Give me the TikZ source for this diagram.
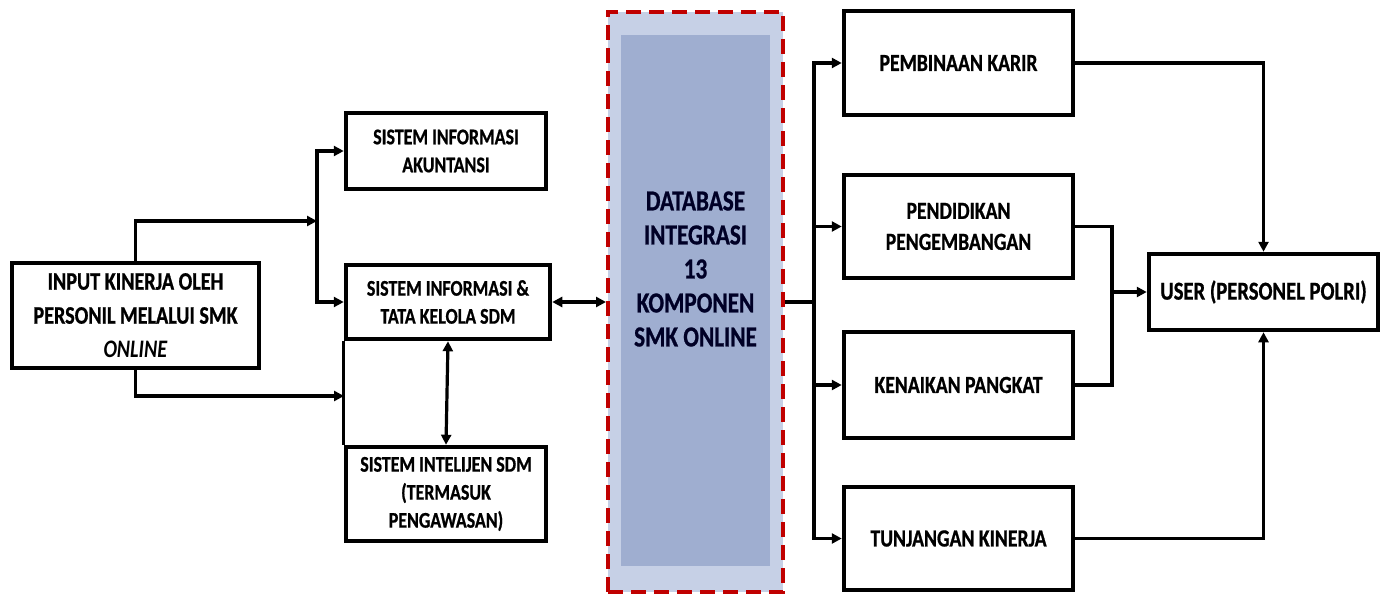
\documentclass[tikz,border=0pt]{standalone}
\usepackage{fontspec}
\setmainfont{Carlito}[FakeStretch=0.8, BoldFeatures={FakeBold=0.8}]
\usetikzlibrary{arrows.meta}

\definecolor{dbred}{HTML}{C00000}
\definecolor{dbpale}{HTML}{C6D0E6}
\definecolor{dbcore}{HTML}{9FAED0}

\begin{document}
\begin{tikzpicture}[x=1pt, y=-1pt,
    box/.style={draw, line width=4.5pt, align=center, inner sep=2pt,
        font=\fontsize{22.4}{28}\selectfont\bfseries},
    rbox/.style={box, minimum width=229pt, font=\fontsize{24.6}{31}\selectfont\bfseries},
    link/.style={line width=3.2pt},
    arr/.style={link, -{Triangle[length=10pt,width=10pt]}},
    both/.style={link, {Triangle[length=10pt,width=10pt]}-{Triangle[length=10pt,width=10pt]}}]

    % Fix the canvas to the size of the original figure
    \useasboundingbox (0,0) rectangle (1386,596);

    % Draw the input box on the left
    \node[box, minimum width=247pt, minimum height=105pt,
        font=\fontsize{25.2}{34}\selectfont\bfseries] (input) at (135.5,315.5)
        {INPUT KINERJA OLEH\\PERSONIL MELALUI SMK\\\textit{ONLINE}};

    % Draw the three information systems
    \node[box, minimum width=200pt, minimum height=76pt] (sia) at (446,151)
        {SISTEM INFORMASI\\AKUNTANSI};
    \node[box, minimum width=204pt, minimum height=74pt] (sit) at (448,302)
        {SISTEM INFORMASI \&\\TATA KELOLA SDM};
    \node[box, minimum width=200pt, minimum height=94pt] (sin) at (446,494)
        {SISTEM INTELIJEN SDM\\(TERMASUK\\PENGAWASAN)};

    % Draw the integrated database in the middle
    \node[draw=dbred, fill=dbpale, line width=4pt, dash pattern=on 15pt off 8pt,
        minimum width=175pt, minimum height=580pt] (db) at (695.5,302) {};
    \node[fill=dbcore, minimum width=149pt, minimum height=531pt] (core) at (695.5,300.5) {};
    \node[align=center, text=black!85!blue, font=\fontsize{29}{34}\selectfont\bfseries]
        (dbtext) at (695.5,269) {DATABASE\\INTEGRASI\\13\\KOMPONEN\\SMK ONLINE};

    % Draw the four outputs on the right
    \node[rbox, minimum height=104pt] (pk) at (958.5,63) {PEMBINAAN KARIR};
    \node[rbox, minimum height=103pt] (pp) at (958.5,226.5) {PENDIDIKAN\\PENGEMBANGAN};
    \node[rbox, minimum height=106pt] (kp) at (958.5,385) {KENAIKAN PANGKAT};
    \node[rbox, minimum height=103pt] (tk) at (958.5,538.5) {TUNJANGAN KINERJA};

    % Draw the user box
    \node[box, minimum width=229pt, minimum height=76pt,
        font=\fontsize{25.8}{31}\selectfont\bfseries] (user) at (1263.5,292)
        {USER (PERSONEL POLRI)};

    % Branch points of the connectors
    \coordinate (upfork) at (317,221);
    \coordinate (lowin) at (344,396);
    \coordinate (dbfork) at (814,302);
    \coordinate (merge) at (1112,292);

    % Input goes to the information systems
    \draw[arr] (input.north) |- (upfork);
    \draw[arr] (upfork) |- (sia.west);
    \draw[arr] (upfork) |- (sit.west);
    \draw[arr] (input.south) |- (lowin);
    \draw[link] (sit.south west) -- (sin.north west);
    \draw[both] (sit.south) -- (sin.north);

    % Exchange with the database
    \draw[both] (sit.east) -- (db.west);

    % Database feeds the outputs
    \draw[link] (db.east) -- (dbfork);
    \foreach \out in {pk,pp,kp,tk}
        \draw[arr] (dbfork) |- (\out.west);

    % Outputs reach the user
    \draw[arr] (pk.east) -| (user.north);
    \draw[link] (pp.east) -| (merge) |- (kp.east);
    \draw[arr] (merge) -- (user.west);
    \draw[arr] (tk.east) -| (user.south);
\end{tikzpicture}
\end{document}
